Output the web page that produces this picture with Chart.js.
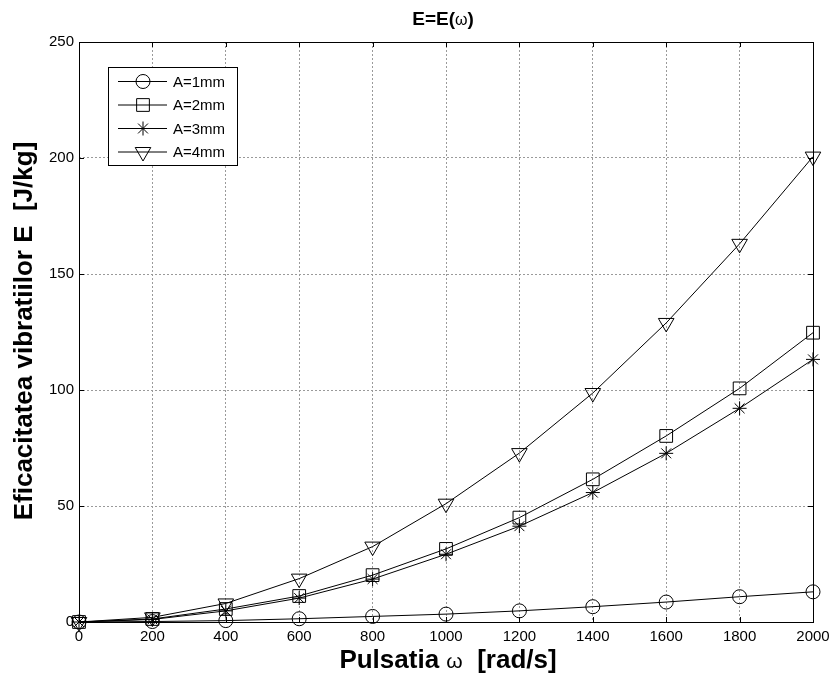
<!DOCTYPE html>
<html><head><meta charset="utf-8">
<script src="https://cdn.jsdelivr.net/npm/chart.js@4/dist/chart.umd.min.js"></script>
<style>html,body{margin:0;padding:0;background:#fff}#wrap{width:829px;height:677px;position:relative}</style>
</head><body><div id="wrap"><canvas id="c" width="829" height="677"></canvas></div>
<script>
// ---- data ----
const omega = [0, 200, 400, 600, 800, 1000, 1200, 1400, 1600, 1800, 2000];
const A1 = [0, 0.2, 0.6, 1.4, 2.4, 3.4, 4.8, 6.6, 8.6, 10.9, 13.0];
const A2 = [0, 1.3, 5.6, 11.2, 20.2, 31.5, 45.0, 61.5, 80.2, 100.7, 124.7];
const A3 = [0, 1.1, 4.8, 10.3, 18.5, 29.2, 41.3, 55.8, 72.7, 92.1, 113.2];
const A4 = [0, 2.0, 8.0, 18.7, 32.5, 51.0, 72.8, 98.7, 128.9, 163.0, 200.6];
const seriesLabels = ['A=1mm', 'A=2mm', 'A=3mm', 'A=4mm'];
const xTickValues = [0, 200, 400, 600, 800, 1000, 1200, 1400, 1600, 1800, 2000];
const yTickValues = [0, 50, 100, 150, 200, 250];
const titleParts = ['E=E(', 'ω', ')'];
const xTitleParts = ['Pulsatia ', 'ω', '  [rad/s]'];
const yTitleText = 'Eficacitatea vibratiilor E  [J/kg]';

const FONT = '"Liberation Sans", Arial, Helvetica, sans-serif';
const styles = [
  {pointStyle: 'circle', radius: 7, rotation: 0},
  {pointStyle: 'rect', radius: 9, rotation: 0},
  {pointStyle: 'star', radius: 7, rotation: 0},
  {pointStyle: 'triangle', radius: 9, rotation: 180}
];
const seriesValues = [A1, A2, A3, A4];

const datasets = seriesValues.map((vals, i) => ({
  label: seriesLabels[i],
  data: omega.map((w, j) => ({x: w, y: vals[j]})),
  borderColor: '#000',
  borderWidth: 1,
  backgroundColor: 'rgba(0,0,0,0)',
  pointStyle: styles[i].pointStyle,
  pointRadius: styles[i].radius,
  pointRotation: styles[i].rotation,
  pointBorderColor: '#000',
  pointBackgroundColor: 'rgba(0,0,0,0)',
  pointBorderWidth: 1,
  tension: 0,
  clip: false
}));

function drawRuns(ctx, parts, fonts, cx, cy) {
  let widths = parts.map((p, i) => { ctx.font = fonts[i]; return ctx.measureText(p).width; });
  let total = widths.reduce((a, b) => a + b, 0);
  let x = cx - total / 2;
  ctx.textAlign = 'left';
  ctx.textBaseline = 'alphabetic';
  parts.forEach((p, i) => { ctx.font = fonts[i]; ctx.fillText(p, x, cy); x += widths[i]; });
}

const decor = {
  id: 'decor',
  afterDatasetsDraw(chart) {
    const ctx = chart.ctx;
    const a = chart.chartArea;
    const xs = chart.scales.x, ys = chart.scales.y;
    ctx.save();
    ctx.strokeStyle = '#000';
    ctx.lineWidth = 1;
    // box
    ctx.strokeRect(Math.round(a.left) + 0.5, Math.round(a.top) + 0.5, Math.round(a.right - a.left), Math.round(a.bottom - a.top));
    // inward ticks
    const tl = 5;
    ctx.beginPath();
    xTickValues.forEach(v => {
      const px = Math.round(xs.getPixelForValue(v)) + 0.5;
      ctx.moveTo(px, a.bottom); ctx.lineTo(px, a.bottom - tl);
      ctx.moveTo(px, a.top); ctx.lineTo(px, a.top + tl);
    });
    yTickValues.forEach(v => {
      const py = Math.round(ys.getPixelForValue(v)) + 0.5;
      ctx.moveTo(a.left, py); ctx.lineTo(a.left + tl, py);
      ctx.moveTo(a.right, py); ctx.lineTo(a.right - tl, py);
    });
    ctx.stroke();

    // legend
    const lx = 108, ly = 67, lw = 129, lh = 98;
    ctx.fillStyle = '#fff';
    ctx.fillRect(lx, ly, lw, lh);
    ctx.strokeRect(lx + 0.5, ly + 0.5, lw, lh);
    seriesLabels.forEach((lab, i) => {
      const y = 81.5 + i * 23.5;
      ctx.beginPath();
      ctx.moveTo(118, y); ctx.lineTo(167, y);
      ctx.stroke();
      ctx.fillStyle = 'rgba(0,0,0,0)';
      ctx.strokeStyle = '#000';
      Chart.helpers.drawPoint(ctx, {pointStyle: styles[i].pointStyle, rotation: styles[i].rotation, radius: styles[i].radius, borderWidth: 1}, 143, y);
      ctx.fillStyle = '#000';
      ctx.font = '15px ' + FONT;
      ctx.textAlign = 'left';
      ctx.textBaseline = 'middle';
      ctx.fillText(lab, 173, y + 1);
    });

    // titles
    ctx.fillStyle = '#000';
    drawRuns(ctx, titleParts, ['bold 19px ' + FONT, '16px ' + FONT, 'bold 19px ' + FONT], 443, 25);
    drawRuns(ctx, xTitleParts, ['bold 26px ' + FONT, '21px ' + FONT, 'bold 26px ' + FONT], 448, 668);
    ctx.save();
    ctx.translate(32, 331);
    ctx.rotate(-Math.PI / 2);
    ctx.font = 'bold 26px ' + FONT;
    ctx.textAlign = 'center';
    ctx.textBaseline = 'alphabetic';
    ctx.fillText(yTitleText, 0, 0);
    ctx.restore();
    ctx.restore();
  }
};

new Chart(document.getElementById('c'), {
  type: 'line',
  data: {datasets},
  options: {
    responsive: false,
    devicePixelRatio: 1,
    animation: false,
    layout: {padding: {top: 42, right: 16, left: 0, bottom: 0}},
    plugins: {legend: {display: false}, title: {display: false}, tooltip: {enabled: false}},
    scales: {
      x: {
        type: 'linear', min: 0, max: 2000,
        afterFit: s => { s.height = 55; s.paddingLeft = 0; s.paddingRight = 0; },
        afterBuildTicks: s => { s.ticks = xTickValues.map(v => ({value: v})); },
        grid: {color: '#9a9a9a', lineWidth: 1, drawTicks: false},
        border: {display: false, dash: [2, 2]},
        ticks: {color: '#000', font: {family: FONT, size: 15}, padding: 6, maxRotation: 0, autoSkip: false,
                callback: v => String(v)}
      },
      y: {
        type: 'linear', min: 0, max: 250,
        afterFit: s => { s.width = 79; s.paddingTop = 0; s.paddingBottom = 0; },
        afterBuildTicks: s => { s.ticks = yTickValues.map(v => ({value: v})); },
        grid: {color: '#9a9a9a', lineWidth: 1, drawTicks: false},
        border: {display: false, dash: [2, 2]},
        ticks: {color: '#000', font: {family: FONT, size: 15}, padding: 5, autoSkip: false,
                callback: v => String(v)}
      }
    }
  },
  plugins: [decor]
});
</script>
</body></html>
